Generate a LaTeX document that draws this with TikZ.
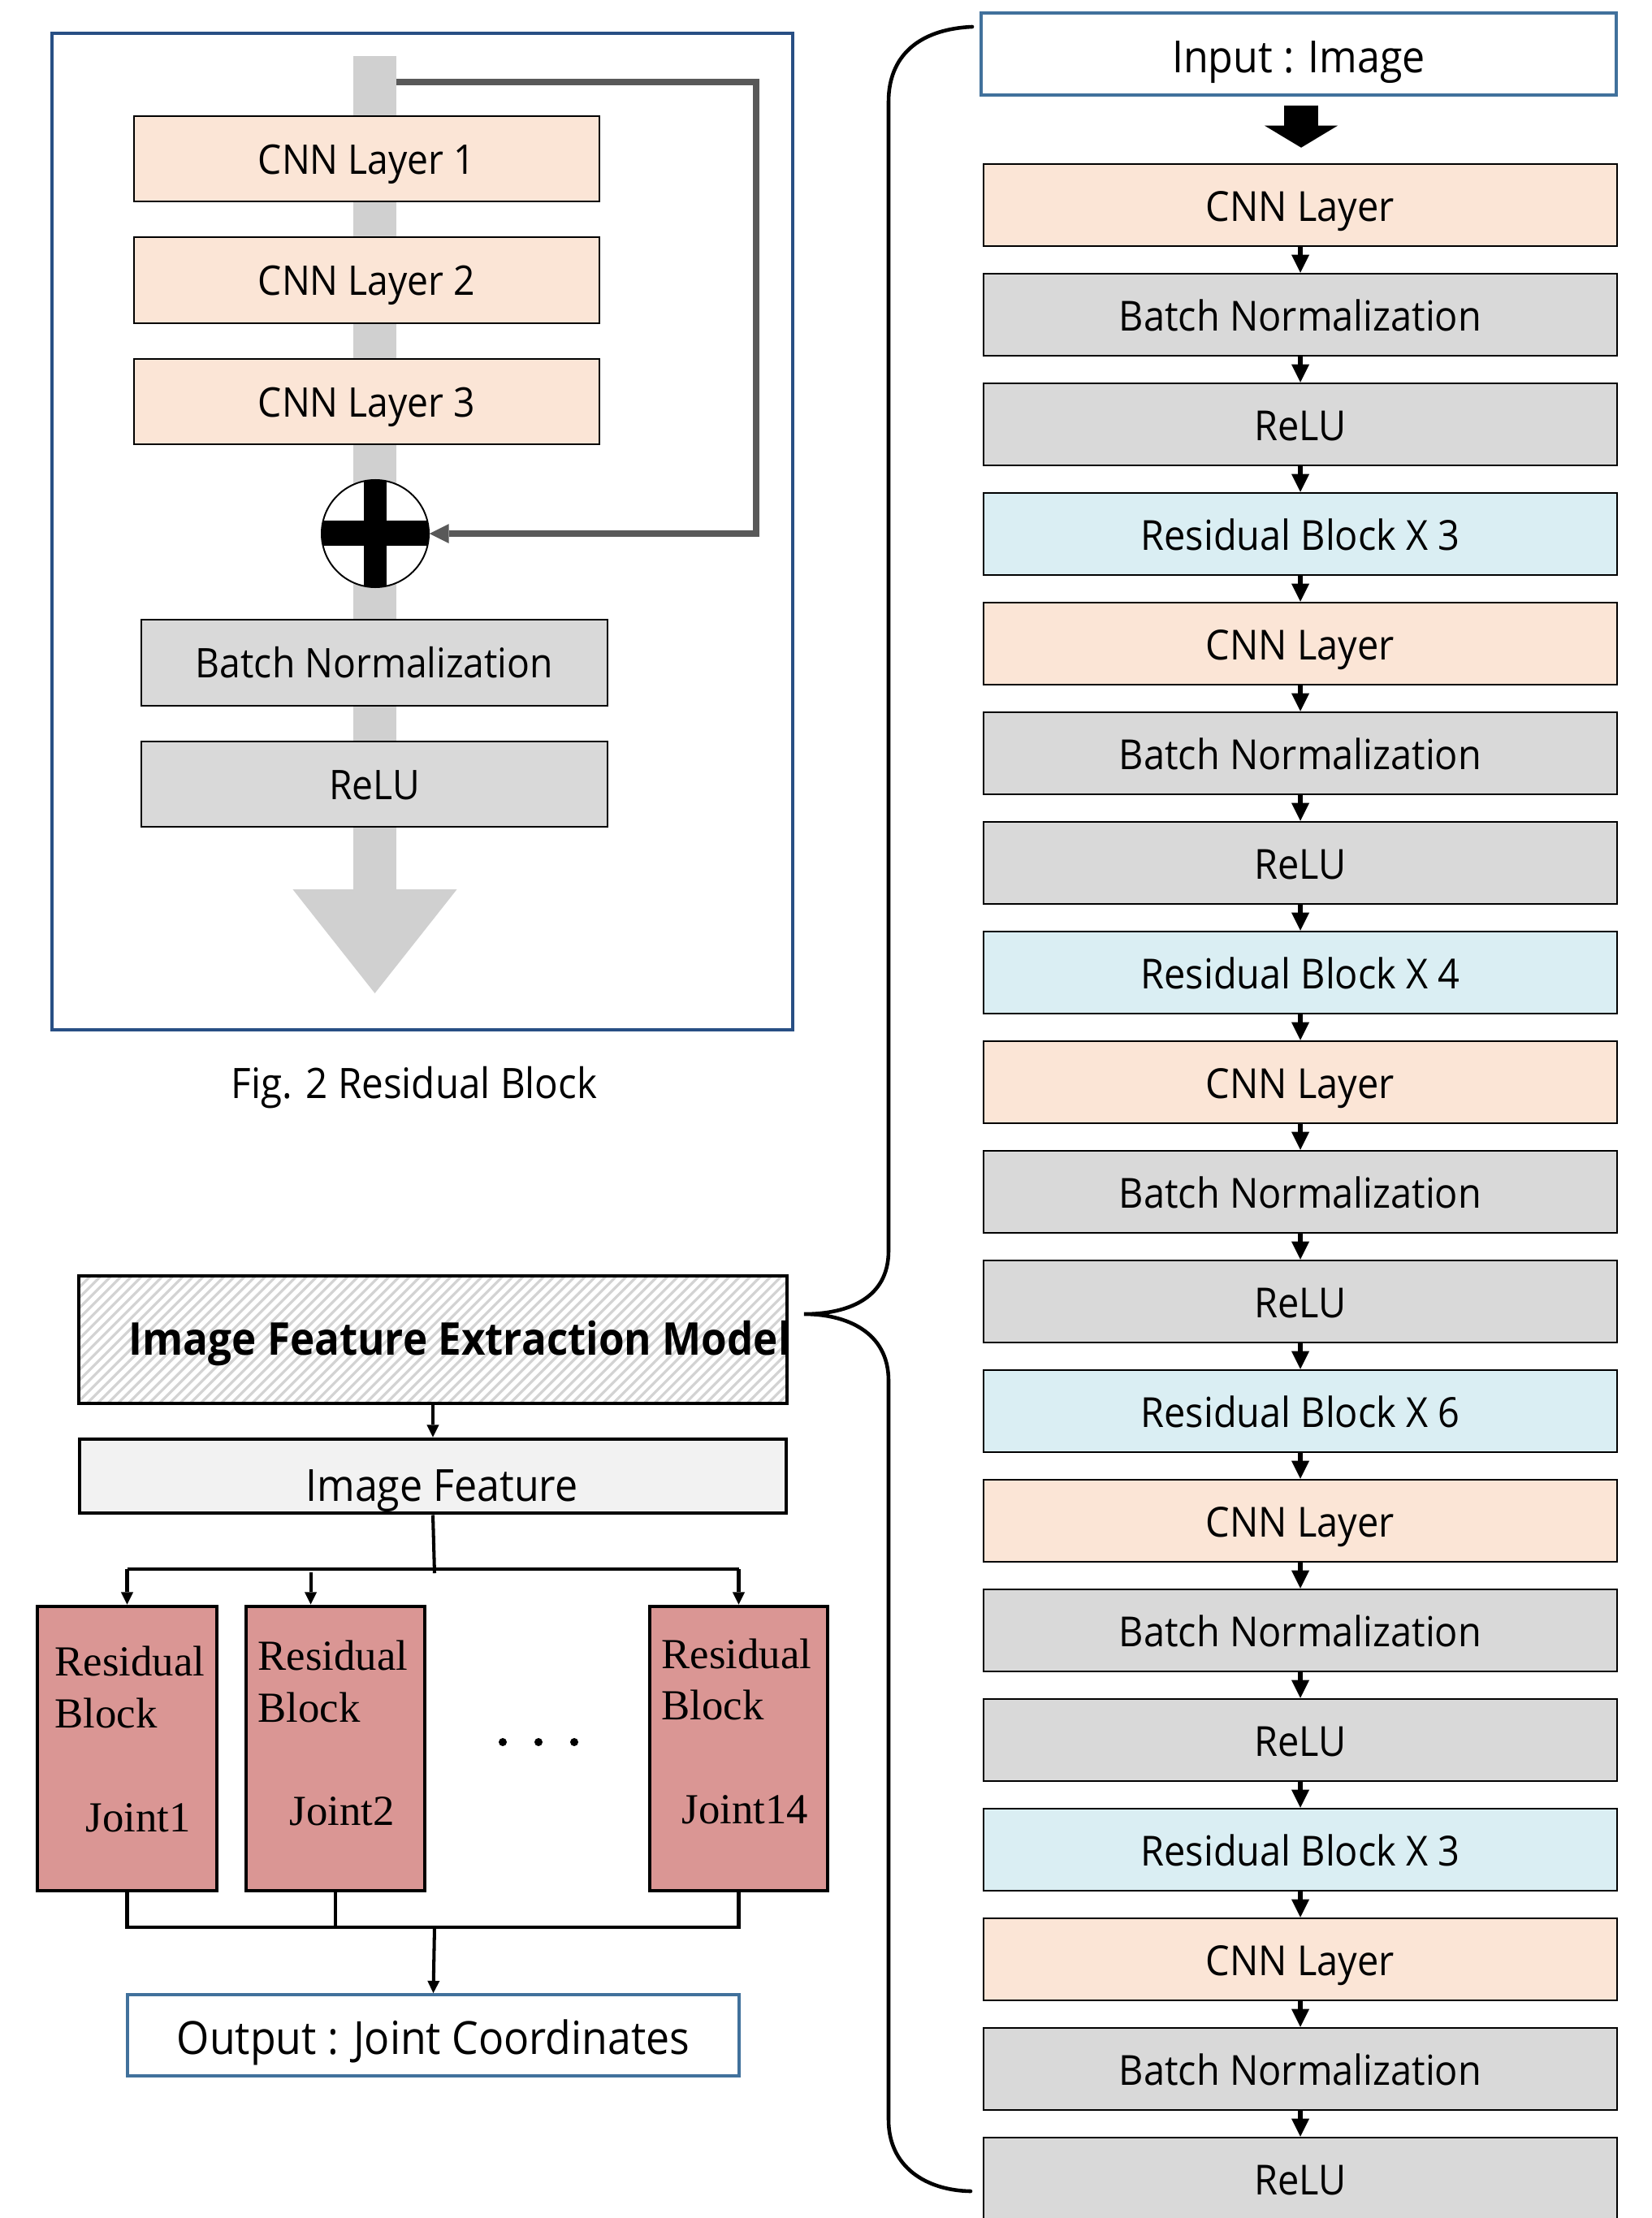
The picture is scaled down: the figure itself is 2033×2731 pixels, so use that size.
\documentclass[tikz,border=0pt]{standalone}
\usepackage{fontspec}
\setmainfont{Open Sans}[FakeStretch=0.92]
\newfontfamily\tms{Liberation Serif}
\usetikzlibrary{arrows.meta,calc}
\definecolor{peach}{HTML}{FBE5D6}
\definecolor{gbox}{HTML}{D9D9D9}
\definecolor{lblue}{HTML}{DAEEF3}
\definecolor{rose}{HTML}{DA9694}
\definecolor{ifgray}{HTML}{F2F2F2}
\definecolor{barg}{HTML}{D0D0D0}
\definecolor{skipg}{HTML}{595959}
\definecolor{framebl}{HTML}{284F84}
\definecolor{iobl}{HTML}{41719C}
\definecolor{hatchg}{HTML}{D3D3D3}
\newcommand{\bx}[7]{\node[#6, inner sep=0pt, minimum width={(#4-#2)*0.01cm}, minimum height={(#5-#3)*0.01cm}] (#1) at ({(#2+#4)/2},{(#3+#5)/2}) {#7};}
\tikzset{
  bline/.style={draw=black, line width=0.7pt},
  ftxt/.style={font=\fontsize{14.3pt}{17pt}\selectfont, text height=0.37cm, text depth=0pt},
  rtxt/.style={font=\fontsize{14.5pt}{17pt}\selectfont, text height=0.39cm, text depth=0pt},
  sarr/.style={line width=1.8pt, -{Triangle[length=6.3pt,width=6.3pt,line width=0pt]}},
  carr/.style={line width=1.15pt, -{Triangle[length=4.3pt,width=4.3pt,line width=0pt]}},
  cline/.style={line width=1.15pt},
  rosebox/.style={draw=black, fill=rose, line width=1.4pt},
  jt/.style={font=\tms\fontsize{15pt}{18pt}\selectfont, inner sep=0pt, anchor=base west},
  brace/.style={line width=1.3pt, line cap=round},
}
\begin{document}
\begin{tikzpicture}[x=0.01cm,y=-0.01cm]
\useasboundingbox (0,0) rectangle (2033,2731);
% ---------- Fig. 2 residual block ----------
\bx{frame}{64}{41}{976}{1268}{draw=framebl, line width=1.3pt}{}
\coordinate (bartop) at (461.5,69);
\coordinate (bartip) at (461.5,1223);
\draw[barg, line width=15.08pt, -{Triangle[length=36.4pt,width=57.5pt,line width=0pt]}] (bartop) -- (bartip);
\bx{c1}{165}{143}{738}{248}{bline, fill=peach, ftxt}{CNN Layer 1}
\bx{c2}{165}{292}{738}{398}{bline, fill=peach, ftxt}{CNN Layer 2}
\bx{c3}{165}{442}{738}{547}{bline, fill=peach, ftxt}{CNN Layer 3}
\node[circle, minimum size=1.32cm, inner sep=0pt, fill=white] (plus) at (462,657) {};
\begin{scope}
  \clip (plus.center) circle[radius=0.66cm];
  \fill[black] (448,585) rectangle (476,730);
  \fill[black] (390,641) rectangle (535,672);
\end{scope}
\draw[line width=0.55pt] (plus.center) circle[radius=0.66cm];
\coordinate (skipstart) at (488,101);
\draw[skipg, line width=2pt, -{Triangle[length=6.8pt,width=6.8pt,line width=0pt]}] (skipstart) -- (931,101) -- (931,657) -- (plus.east);
\bx{bn}{174}{763}{748}{869}{bline, fill=gbox, ftxt}{Batch Normalization}
\bx{relu}{174}{913}{748}{1018}{bline, fill=gbox, ftxt}{ReLU}
\node[anchor=base, inner sep=0pt, font=\fontsize{14.7pt}{17pt}\selectfont] (cap) at (510,1352) {Fig. 2 Residual Block};
% ---------- bottom left ----------
\bx{ifem}{98}{1572}{968}{1727}{fill=white}{}
\begin{scope}
  \clip (98,1572) rectangle (968,1727);
  \foreach \k in {0,...,82} {\draw[hatchg, line width=0.9pt] ({98-155+\k*12.7},1727) -- ++(155,-155);}
\end{scope}
\draw[line width=1.15pt] (ifem.north west) rectangle (ifem.south east);
\node[anchor=base west, inner sep=0pt, font=\bfseries\fontsize{15.8pt}{18pt}\selectfont] (ifemt) at (158,1668) {Image Feature Extraction Model};
\bx{if}{98}{1772}{968}{1863}{draw=black, line width=1.4pt, fill=ifgray}{}
\node[anchor=base, inner sep=0pt, font=\fontsize{15.5pt}{18pt}\selectfont] (ift) at (544,1848) {Image Feature};
\bx{b1}{46}{1978}{267}{2328}{rosebox}{}
\bx{b2}{303}{1978}{523}{2328}{rosebox}{}
\bx{b3}{800}{1978}{1019}{2328}{rosebox}{}
\node[jt] (b1r) at (67,2063) {Residual};
\node[jt] (b1b) at (67,2127) {Block};
\node[jt] (b1j) at (105,2255) {Joint1};
\node[jt] (b2r) at (317,2056) {Residual};
\node[jt] (b2b) at (317,2120) {Block};
\node[jt] (b2j) at (356,2247) {Joint2};
\node[jt] (b3r) at (814,2054) {Residual};
\node[jt] (b3b) at (814,2117) {Block};
\node[jt] (b3j) at (839,2245) {Joint14};
\fill (619,2145) circle[radius=0.05cm];
\fill (663,2145) circle[radius=0.05cm];
\fill (707,2145) circle[radius=0.05cm];
\bx{out}{157}{2456}{910}{2556}{draw=iobl, line width=1.1pt, font=\fontsize{16pt}{19pt}\selectfont, text height=0.47cm, text depth=0pt}{Output : Joint Coordinates}
\coordinate (split) at (535,1932);
\coordinate (merge) at (535,2373);
\draw[carr] (ifem.south) -- (if.north);
\draw[cline] (if.south) -- ($(split)+(0,5)$);
\draw[cline] (b1.north |- split) -- (b3.north |- split);
\draw[carr] (b1.north |- split) -- (b1.north);
\draw[carr] (b3.north |- split) -- (b3.north);
\draw[carr] ($(b2.north west)+(82,-40)$) -- ($(b2.north west)+(82,0)$);
\draw[cline] (b1.south) -- (b1.south |- merge) -- (b3.south |- merge) -- (b3.south);
\draw[cline] (b2.south) -- (b2.south |- merge);
\draw[carr] (merge) -- (out.north);
% ---------- right column ----------
\bx{inp}{1208}{16}{1990}{117}{draw=iobl, line width=1pt, font=\fontsize{15.5pt}{18pt}\selectfont, text height=0.46cm, text depth=0pt}{Input : Image}
\foreach \i/\t/\s in {1/CNN Layer/peach,2/Batch Normalization/gbox,3/ReLU/gbox,4/Residual Block X 3/lblue,%
5/CNN Layer/peach,6/Batch Normalization/gbox,7/ReLU/gbox,8/Residual Block X 4/lblue,%
9/CNN Layer/peach,10/Batch Normalization/gbox,11/ReLU/gbox,12/Residual Block X 6/lblue,%
13/CNN Layer/peach,14/Batch Normalization/gbox,15/ReLU/gbox,16/Residual Block X 3/lblue,%
17/CNN Layer/peach,18/Batch Normalization/gbox,19/ReLU/gbox}{%
  \pgfmathsetmacro\yt{202+135*(\i-1)}
  \bx{r\i}{1211}{\yt}{1991}{\yt+101}{bline, fill=\s, rtxt}{\t}
}
\foreach \i [evaluate=\i as \j using int(\i+1)] in {1,...,18} {\draw[sarr] (r\i.south) -- (r\j.north);}
\draw[line width=11.95pt, -{Triangle[length=7.7pt,width=25.6pt,line width=0pt]}] ($(inp.south)+(3,11)$) -- ($(r1.north)+(1,-19)$);
% brace
\draw[brace] (1197,33) .. controls (1130,36) and (1094,70) .. (1094,125) -- (1094,1540)
  .. controls (1094,1600) and (1042,1618) .. (990,1618)
  .. controls (1042,1618) and (1094,1640) .. (1094,1700) -- (1094,2610)
  .. controls (1094,2668) and (1140,2697) .. (1195,2698);
\end{tikzpicture}
\end{document}
